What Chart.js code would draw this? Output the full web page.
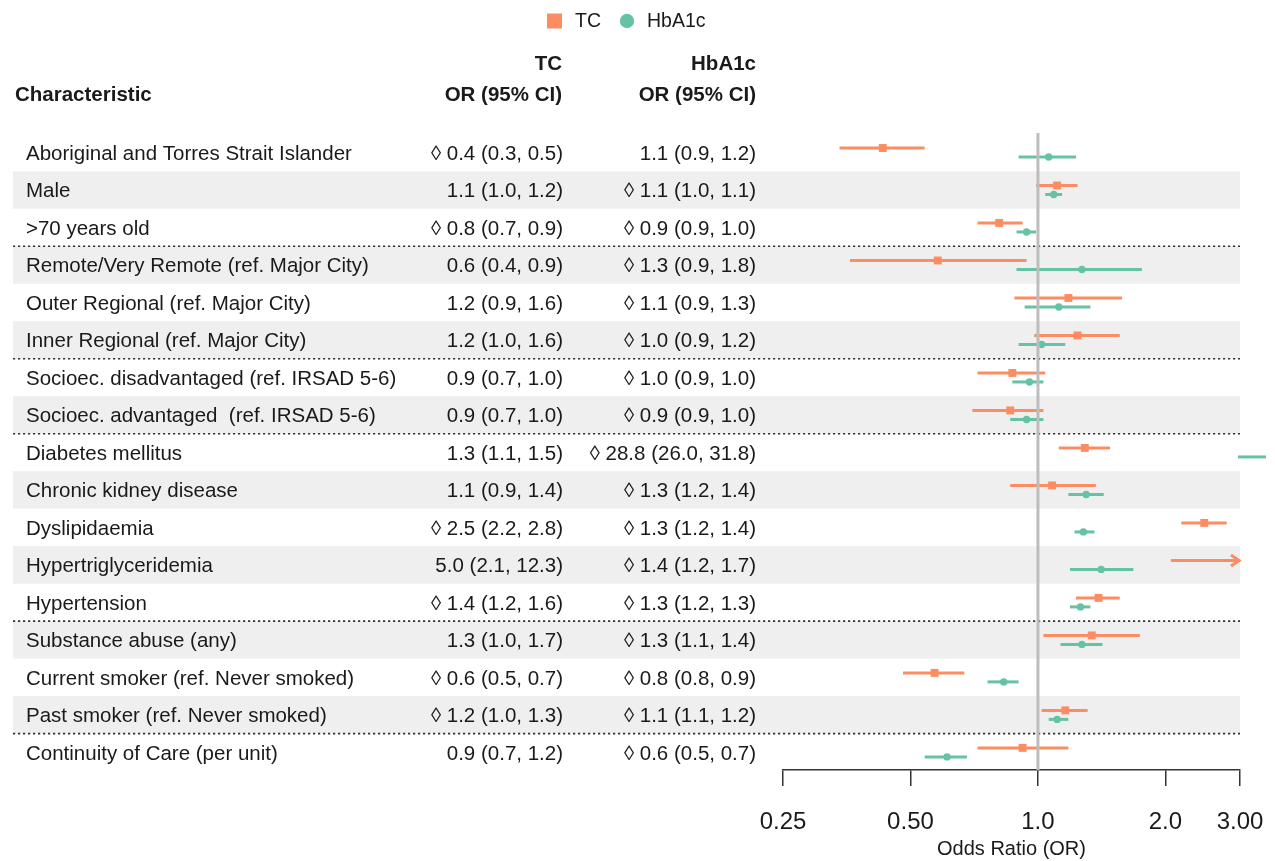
<!DOCTYPE html>
<html>
<head>
<meta charset="utf-8">
<title>Odds ratios for TC and HbA1c testing</title>
<script src="https://cdn.jsdelivr.net/npm/chart.js@4.4.1/dist/chart.umd.min.js"></script>
<style>
  html, body { margin: 0; padding: 0; background: #ffffff; }
  #wrap { width: 1275px; height: 861px; position: relative; }
</style>
</head>
<body>
<div id="wrap"><canvas id="forest" width="1275" height="861"></canvas></div>
<script>
// ---- data ----
const categories = [
  'Aboriginal and Torres Strait Islander',
  'Male',
  '>70 years old',
  'Remote/Very Remote (ref. Major City)',
  'Outer Regional (ref. Major City)',
  'Inner Regional (ref. Major City)',
  'Socioec. disadvantaged (ref. IRSAD 5-6)',
  'Socioec. advantaged  (ref. IRSAD 5-6)',
  'Diabetes mellitus',
  'Chronic kidney disease',
  'Dyslipidaemia',
  'Hypertriglyceridemia',
  'Hypertension',
  'Substance abuse (any)',
  'Current smoker (ref. Never smoked)',
  'Past smoker (ref. Never smoked)',
  'Continuity of Care (per unit)'
];

const tcOR = [0.43, 1.11, 0.81, 0.58, 1.18, 1.24, 0.87, 0.86, 1.29, 1.08, 2.47, 5.0, 1.39, 1.34, 0.57, 1.16, 0.92];
const tcLo = [0.34, 0.99, 0.72, 0.36, 0.88, 0.98, 0.72, 0.70, 1.12, 0.86, 2.18, 2.06, 1.23, 1.03, 0.48, 1.02, 0.72];
const tcHi = [0.54, 1.24, 0.92, 0.94, 1.58, 1.56, 1.04, 1.03, 1.48, 1.37, 2.79, 12.3, 1.56, 1.74, 0.67, 1.31, 1.18];
const tcMarked = [true, false, true, false, false, false, false, false, false, false, true, false, true, false, true, true, false];

const hbOR = [1.06, 1.09, 0.94, 1.27, 1.12, 1.02, 0.955, 0.94, 28.8, 1.30, 1.28, 1.41, 1.26, 1.27, 0.83, 1.11, 0.61];
const hbLo = [0.90, 1.04, 0.89, 0.89, 0.93, 0.90, 0.87, 0.86, 26.0, 1.18, 1.22, 1.19, 1.19, 1.13, 0.76, 1.06, 0.54];
const hbHi = [1.23, 1.14, 0.99, 1.76, 1.33, 1.16, 1.03, 1.03, 31.8, 1.43, 1.36, 1.68, 1.33, 1.42, 0.90, 1.18, 0.68];
const hbMarked = [false, true, true, true, true, true, true, true, true, true, true, true, true, true, true, true, true];

const tickValues = [0.25, 0.5, 1, 2, 3];
const tickLabels = ['0.25', '0.50', '1.0', '2.0', '3.00'];
const groupBreaks = [2, 5, 7, 12, 15];   // a dotted rule follows these rows

// ---- styling ----
const TC_COLOR = '#FC8D62';
const HB_COLOR = '#66C2A5';
const TEXT_COLOR = '#1a1a1a';
const FONT = '"Liberation Sans", Arial, Helvetica, sans-serif';
const TABLE_LEFT = 13;
const LABEL_X = 26;
const TC_COL_RIGHT = 563;
const HB_COL_RIGHT = 756;
const ROW_SHIFT = 0.12;

function fmt(est, lo, hi, marked) {
  return (marked ? '\u25CA ' : '') + est.toFixed(1) + ' (' + lo.toFixed(1) + ', ' + hi.toFixed(1) + ')';
}

function strokeLine(ctx, x1, y1, x2, y2) {
  ctx.beginPath();
  ctx.moveTo(x1, y1);
  ctx.lineTo(x2, y2);
  ctx.stroke();
}

// horizontal confidence interval, with an arrow when it runs past the axis
function drawInterval(ctx, xs, yPix, lo, hi, color) {
  ctx.save();
  ctx.strokeStyle = color;
  ctx.lineWidth = 3;
  ctx.lineCap = 'butt';
  const right = xs.getPixelForValue(xs.max);
  if (lo > xs.max) {
    strokeLine(ctx, right - 2, yPix, right + 26, yPix);
    ctx.restore();
    return;
  }
  const x0 = xs.getPixelForValue(Math.max(lo, xs.min));
  if (hi > xs.max) {
    strokeLine(ctx, x0, yPix, right, yPix);
    ctx.lineJoin = 'miter';
    ctx.beginPath();
    ctx.moveTo(right - 9, yPix - 5.5);
    ctx.lineTo(right - 1, yPix);
    ctx.lineTo(right - 9, yPix + 5.5);
    ctx.stroke();
  } else {
    strokeLine(ctx, x0, yPix, xs.getPixelForValue(hi), yPix);
  }
  ctx.restore();
}

const forestTable = {
  id: 'forestTable',
  beforeDraw(chart) {
    const { ctx, chartArea, scales } = chart;
    const ys = scales.y;
    const rowH = Math.abs(ys.getPixelForValue(1) - ys.getPixelForValue(0));
    ctx.save();
    ctx.fillStyle = '#ffffff';
    ctx.fillRect(0, 0, chart.width, chart.height);

    // alternating row bands
    ctx.fillStyle = '#EFEFEF';
    categories.forEach((c, i) => {
      if (i % 2 === 1) {
        const yc = ys.getPixelForValue(i);
        ctx.fillRect(TABLE_LEFT, yc - rowH / 2, chartArea.right - TABLE_LEFT, rowH);
      }
    });

    // dotted group rules
    ctx.strokeStyle = '#333333';
    ctx.lineWidth = 1.6;
    ctx.setLineDash([2.2, 2.8]);
    groupBreaks.forEach(b => {
      const yy = ys.getPixelForValue(b + 0.5);
      strokeLine(ctx, TABLE_LEFT, yy, chartArea.right, yy);
    });
    ctx.setLineDash([]);

    // column headers
    ctx.fillStyle = TEXT_COLOR;
    ctx.textBaseline = 'middle';
    ctx.font = 'bold 20.5px ' + FONT;
    ctx.textAlign = 'left';
    ctx.fillText('Characteristic', 15, 95);
    ctx.textAlign = 'right';
    ctx.fillText('TC', TC_COL_RIGHT - 1, 64);
    ctx.fillText('OR (95% CI)', TC_COL_RIGHT - 1, 95);
    ctx.fillText('HbA1c', HB_COL_RIGHT, 64);
    ctx.fillText('OR (95% CI)', HB_COL_RIGHT, 95);

    // row labels and estimates
    ctx.font = '20.5px ' + FONT;
    categories.forEach((c, i) => {
      const yc = ys.getPixelForValue(i) + 1.5;
      ctx.textAlign = 'left';
      ctx.fillText(c, LABEL_X, yc);
      ctx.textAlign = 'right';
      ctx.fillText(fmt(tcOR[i], tcLo[i], tcHi[i], tcMarked[i]), TC_COL_RIGHT, yc);
      ctx.fillText(fmt(hbOR[i], hbLo[i], hbHi[i], hbMarked[i]), HB_COL_RIGHT, yc);
    });

    // legend
    const ly = 21;
    ctx.font = '19.5px ' + FONT;
    ctx.textAlign = 'left';
    ctx.fillStyle = TC_COLOR;
    ctx.fillRect(547, ly - 7.5, 15, 15);
    ctx.fillStyle = TEXT_COLOR;
    ctx.fillText(chart.data.datasets[0].label, 575, ly + 1);
    ctx.fillStyle = HB_COLOR;
    ctx.beginPath();
    ctx.arc(627, ly, 7.2, 0, Math.PI * 2);
    ctx.fill();
    ctx.fillStyle = TEXT_COLOR;
    ctx.fillText(chart.data.datasets[1].label, 647, ly + 1);
    ctx.restore();
  },
  beforeDatasetsDraw(chart) {
    const { ctx, scales } = chart;
    const xs = scales.x, ys = scales.y;
    categories.forEach((c, i) => {
      drawInterval(ctx, xs, ys.getPixelForValue(i - ROW_SHIFT), tcLo[i], tcHi[i], TC_COLOR);
      drawInterval(ctx, xs, ys.getPixelForValue(i + ROW_SHIFT), hbLo[i], hbHi[i], HB_COLOR);
    });
  },
  afterDatasetsDraw(chart) {
    const { ctx, chartArea, scales } = chart;
    const xr = scales.x.getPixelForValue(1);
    ctx.save();
    ctx.strokeStyle = '#BDBDBD';
    ctx.lineWidth = 3;
    strokeLine(ctx, xr, chartArea.top, xr, chartArea.bottom);
    ctx.restore();
  }
};

new Chart(document.getElementById('forest'), {
  type: 'scatter',
  data: {
    datasets: [
      {
        label: 'TC',
        data: categories.map((c, i) => ({ x: tcOR[i], y: i - ROW_SHIFT })),
        pointStyle: 'rect',
        pointRadius: 5.6,
        backgroundColor: TC_COLOR,
        borderWidth: 0
      },
      {
        label: 'HbA1c',
        data: categories.map((c, i) => ({ x: hbOR[i], y: i + ROW_SHIFT })),
        pointStyle: 'circle',
        pointRadius: 3.7,
        backgroundColor: HB_COLOR,
        borderWidth: 0
      }
    ]
  },
  options: {
    responsive: false,
    animation: false,
    devicePixelRatio: 1,
    layout: { padding: { left: 783, right: 35, top: 133, bottom: 0 } },
    plugins: {
      legend: { display: false },
      tooltip: { enabled: false }
    },
    scales: {
      x: {
        type: 'logarithmic',
        position: 'bottom',
        min: 0.25,
        max: 3,
        afterBuildTicks: (scale) => { scale.ticks = tickValues.map(v => ({ value: v })); },
        ticks: {
          callback: (value, index) => tickLabels[index],
          autoSkip: false,
          maxRotation: 0,
          padding: 0,
          color: TEXT_COLOR,
          font: { family: FONT, size: 24, lineHeight: 3 }
        },
        grid: {
          drawOnChartArea: false,
          drawTicks: true,
          tickLength: 16,
          color: '#333333',
          lineWidth: 1.5
        },
        border: { display: true, color: '#333333', width: 1.5 },
        title: {
          display: true,
          text: 'Odds Ratio (OR)',
          color: TEXT_COLOR,
          font: { family: FONT, size: 20, lineHeight: 1.2 },
          padding: { top: -21, bottom: 0 }
        }
      },
      y: {
        type: 'linear',
        reverse: true,
        min: -0.52,
        max: 16.47,
        display: false
      }
    }
  },
  plugins: [forestTable]
});
</script>
</body>
</html>
